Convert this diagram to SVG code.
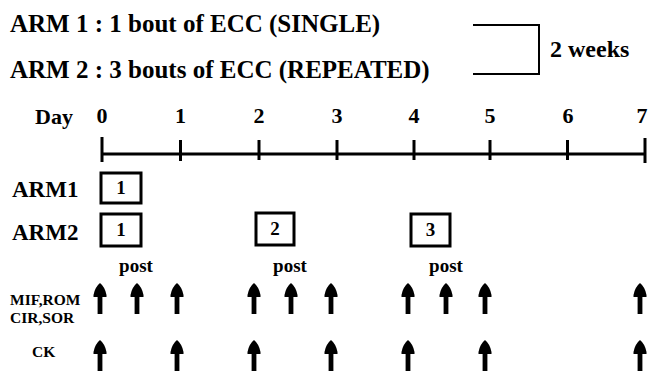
<svg xmlns="http://www.w3.org/2000/svg" width="648" height="379" viewBox="0 0 648 379">
<style>
text{font-family:"Liberation Serif","Times New Roman",serif;font-weight:bold;fill:#000}
.t{font-size:25px}
.w{font-size:24px}
.d{font-size:22px}
.a{font-size:23px}
.n{font-size:19px;text-anchor:middle}
.p{font-size:19px;text-anchor:middle}
.s{font-size:15.5px}
.ln{stroke:#000;stroke-width:2;fill:none}
.ax{stroke:#000;stroke-width:3;fill:none}
.box{stroke:#000;stroke-width:3;fill:#fff}
</style>
<defs>
<path id="arr" d="M0,-16 Q5,-12 6.5,-4 L6.5,-2 L2.4,-2 L2.4,15 L-2.4,15 L-2.4,-2 L-6.5,-2 L-6.5,-4 Q-5,-12 0,-16 Z" fill="#000"/>
</defs>
<g id="titles">
<text class="t" x="10" y="32">ARM 1 : 1 bout of ECC (SINGLE)</text>
<text class="t" x="10" y="78">ARM 2 : 3 bouts of ECC (REPEATED)</text>
</g>
<g id="bracket">
<polyline class="ln" points="473,25 539,25 539,74 473,74"/>
<text class="w" x="550" y="57">2 weeks</text>
</g>
<g id="axis">
<text class="d" x="35" y="124">Day</text>
<line class="ax" x1="102" y1="154" x2="645" y2="154"/>
<g class="ax">
<line x1="102" y1="137" x2="102" y2="162"/>
<line x1="180.5" y1="140" x2="180.5" y2="161"/>
<line x1="259" y1="140" x2="259" y2="160"/>
<line x1="337" y1="140" x2="337" y2="160"/>
<line x1="414" y1="140" x2="414" y2="160"/>
<line x1="490" y1="140" x2="490" y2="160"/>
<line x1="567.5" y1="140" x2="567.5" y2="160"/>
<line x1="645" y1="138" x2="645" y2="163"/>
</g>
<text class="d" x="102" y="123" text-anchor="middle">0</text>
<text class="d" x="180.5" y="123" text-anchor="middle">1</text>
<text class="d" x="259" y="123" text-anchor="middle">2</text>
<text class="d" x="337" y="123" text-anchor="middle">3</text>
<text class="d" x="414" y="123" text-anchor="middle">4</text>
<text class="d" x="490" y="123" text-anchor="middle">5</text>
<text class="d" x="568" y="123" text-anchor="middle">6</text>
<text class="d" x="642" y="123" text-anchor="middle">7</text>
</g>
<g id="arm1">
<text class="a" x="12" y="197">ARM1</text>
<rect class="box" x="101" y="173" width="40" height="30"/>
<text class="n" x="121" y="194">1</text>
</g>
<g id="arm2">
<text class="a" x="12" y="240">ARM2</text>
<rect class="box" x="101" y="214" width="40" height="32"/>
<text class="n" x="121" y="236">1</text>
<rect class="box" x="256" y="213" width="38" height="32"/>
<text class="n" x="275" y="235">2</text>
<rect class="box" x="411" y="214" width="39" height="32"/>
<text class="n" x="430.5" y="236">3</text>
<text class="p" x="136" y="272">post</text>
<text class="p" x="290" y="272">post</text>
<text class="p" x="446" y="272">post</text>
</g>
<g id="labels">
<text class="s" x="10" y="305">MIF,ROM</text>
<text class="s" x="10" y="323">CIR,SOR</text>
<text class="s" x="32" y="357">CK</text>
</g>
<g id="connectors">
<use href="#arr" x="100" y="299"/>
<use href="#arr" x="137" y="299"/>
<use href="#arr" x="177" y="299"/>
<use href="#arr" x="254" y="299"/>
<use href="#arr" x="291" y="299"/>
<use href="#arr" x="331" y="299"/>
<use href="#arr" x="408" y="299"/>
<use href="#arr" x="446" y="299"/>
<use href="#arr" x="485" y="299"/>
<use href="#arr" x="640" y="299"/>
<use href="#arr" x="100" y="356"/>
<use href="#arr" x="177" y="356"/>
<use href="#arr" x="254" y="356"/>
<use href="#arr" x="331" y="356"/>
<use href="#arr" x="408" y="356"/>
<use href="#arr" x="485" y="356"/>
<use href="#arr" x="640" y="356"/>
</g>
</svg>
